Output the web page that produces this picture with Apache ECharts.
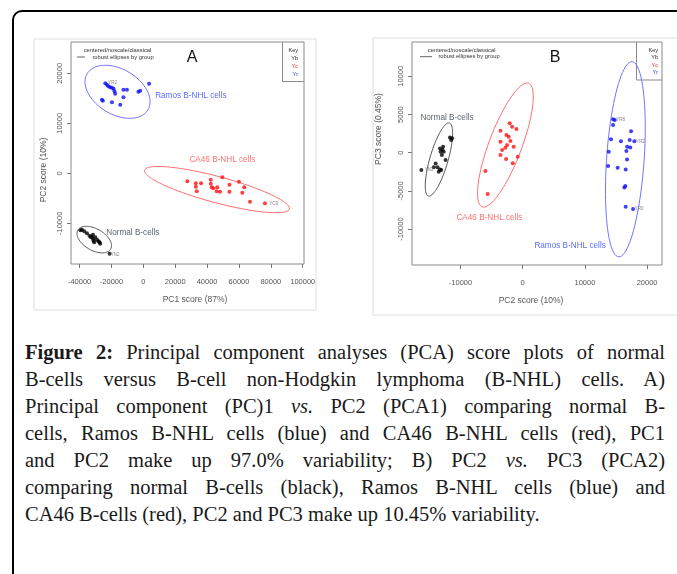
<!DOCTYPE html>
<html lang="en">
<head>
<meta charset="UTF-8">
<title>PCA score plots</title>
<script src="https://cdn.jsdelivr.net/npm/echarts@6/dist/echarts.min.js"></script>
<style>
    html, body { margin: 0; padding: 0; width: 677px; height: 574px; overflow: hidden; background: #fff; }
    #frame { position: absolute; left: 12px; top: 10px; width: 720px; height: 620px; border: 2px solid #000; border-radius: 10px; box-sizing: border-box; }
    #main { position: absolute; left: 0; top: 0; width: 677px; height: 330px; }
    #caption { position: absolute; left: 25px; top: 339px; width: 640px; font-family: 'Liberation Serif', 'DejaVu Serif', serif; font-size: 20.5px; line-height: 27px; color: #1a1a1a; }
    #caption div { text-align: justify; text-align-last: justify; }
    #caption div.last { text-align-last: left; }
</style>
</head>
<body>
<div id="frame"></div>
<div id="main"></div>
<div id="caption">
    <div><b>Figure 2:</b> Principal component analyses (PCA) score plots of normal</div>
    <div>B-cells versus B-cell non-Hodgkin lymphoma (B-NHL) cells. A)</div>
    <div>Principal component (PC)1 <i>vs.</i> PC2 (PCA1) comparing normal B-</div>
    <div>cells, Ramos B-NHL cells (blue) and CA46 B-NHL cells (red), PC1</div>
    <div>and PC2 make up 97.0% variability; B) PC2 <i>vs.</i> PC3 (PCA2)</div>
    <div>comparing normal B-cells (black), Ramos B-NHL cells (blue) and</div>
    <div class="last">CA46 B-cells (red), PC2 and PC3 make up 10.45% variability.</div>
</div>
<script>
    // panel A: PC1 vs PC2
    var ramosA = [[-23900, 18000], [-22900, 17700], [-22000, 17400], [-20800, 17200], [-19700, 17100], [-18700, 16900],
        [-18100, 16400], [-12500, 16700], [-10300, 16700], [-17700, 15900], [-26000, 14700], [-25400, 14500],
        [-19700, 14200], [-14500, 13700], [-12500, 15200], [-3100, 16300], [-2000, 16500], [3600, 17900]];
    var ca46A = [[27600, -1600], [32900, -2000], [32900, -2700], [33500, -3600], [36200, -2000], [42300, -1300],
        [42300, -2100], [42900, -2800], [43900, -3000], [46400, -2800], [46000, -3600], [48100, -3700],
        [49600, -800], [54000, -2300], [54000, -3700], [60000, -1700], [63300, -2800], [62100, -3900],
        [66900, -5700], [76300, -6000]];
    var normalA = [[-39500, -11400], [-38500, -11300], [-37100, -11600], [-35400, -12000], [-33800, -12500],
        [-32900, -12800], [-32300, -12700], [-31600, -13100], [-31300, -13500], [-30800, -13800], [-29100, -13300],
        [-28100, -13600], [-27500, -13800], [-27100, -14100], [-31600, -12300], [-30200, -12800], [-21200, -16100]];

    // panel B: PC2 vs PC3
    var normalB = [[-16300, -2270], [-14300, -1900], [-14000, -1400], [-13700, -1900], [-13300, -2200],
        [-13500, -2500], [-13100, -2270], [-13300, 570], [-12800, 790], [-13200, 130], [-12700, 130],
        [-13000, -300], [-12400, -960], [-11700, 2000], [-11350, 1900], [-11500, 1660], [-12900, 400]];
    var ca46B = [[-3580, 2880], [-2090, 3850], [-1710, 3410], [-2620, 2320], [-1010, 3100], [-3580, 1440],
        [-2250, 2100], [-1980, 1530], [-2510, 1010], [-2780, 660], [-3310, 350], [-3580, -300], [-1450, 790],
        [-2670, -830], [-800, -520], [-1600, -1390], [-6000, -2400], [-5630, -5410]];
    var ramosB = [[14530, 4380], [14800, 4290], [14530, 3630], [17430, 2800], [14200, 1750], [15800, 1490],
        [17200, 1660], [17960, 1490], [16800, 790], [17300, 700], [16670, 220], [13830, 130], [16780, -870],
        [13730, -1740], [15270, -1960], [16560, -2180], [16500, -4360], [16350, -4540], [16560, -7080], [17750, -7380]];

    // robust ellipses: centre, end of one axis, end of the other axis
    var ellipseA = {ramos: [-16200, 16300, 2900, 12700, -9000, 20200],
        ca46: [46200, -3260, 91600, -7140, 48400, -740],
        normal: [-30800, -13260, -20500, -15160, -27400, -11400]};
    var ellipseB = {ramos: [16510, -850, 17590, 11930, 19520, -1020],
        ca46: [-2780, 1010, 960, 9100, -310, 250],
        normal: [-13470, -890, -11780, 3890, -12060, -1220]};

    var groupNamesA = [[7400, 15500, 'Ramos B-NHL cells'], [28900, 2700, 'CA46 B-NHL cells'], [-23300, -11800, 'Normal B-cells']];
    var groupNamesB = [[1880, -12190, 'Ramos B-NHL cells'], [-10660, -8520, 'CA46 B-NHL cells'], [-16450, 4590, 'Normal B-cells']];
    var sampleIdsA = [[-22060, 18040, 'YR2'], [79000, -6000, 'YC9'], [-20400, -16260, 'YN2']];
    var sampleIdsB = [[-15750, -2270, 'YN2'], [15060, 4290, 'YR8'], [18230, 1440, 'YR2'], [18000, -7380, 'YR0']];

    var xTicksA = [-40000, -20000, 0, 20000, 40000, 60000, 80000, 100000];
    var yTicksA = [-10000, 0, 10000, 20000];
    var xTicksB = [-10000, 0, 10000, 20000];
    var yTicksB = [-10000, -5000, 0, 5000, 10000];

    var keyLabels = ['Key', 'Yb', 'Yc', 'Yr'];

    var FONT = 'Liberation Sans, Arial, sans-serif';
    var groupColors = ['#1010f0', '#ff1010', '#000000'];
    var ellipseColors = ['#7272ff', '#ff6e6e', '#555555'];
    var nameColors = ['#3246ff', '#ff4a4a', '#2e3a44'];
    var keyColors = ['#222', '#222', '#ff2020', '#2030ff'];

    function axis(grid, min, max, ticks, isY) {
        return {
            type: 'value', gridIndex: grid, min: min, max: max,
            axisLine: {show: false, onZero: false},
            splitLine: {show: false},
            axisTick: {show: true, customValues: ticks, length: 4, lineStyle: {color: '#777'}},
            axisLabel: {customValues: ticks, fontSize: 7.5, color: '#555', fontFamily: FONT,
                margin: isY ? 7 : 14, rotate: isY ? 90 : 0,
                formatter: function (v) { return String(v); }}
        };
    }

    function renderEllipse(params, api) {
        var cx = api.value(0), cy = api.value(1);
        var ux = api.value(2) - cx, uy = api.value(3) - cy;
        var vx = api.value(4) - cx, vy = api.value(5) - cy;
        var pts = [];
        for (var i = 0; i <= 90; i++) {
            var t = i / 90 * 2 * Math.PI;
            pts.push(api.coord([cx + ux * Math.cos(t) + vx * Math.sin(t), cy + uy * Math.cos(t) + vy * Math.sin(t)]));
        }
        return {type: 'polyline', shape: {points: pts}, style: {fill: 'none', stroke: api.visual('color'), lineWidth: 1}};
    }

    function points(name, grid, data, k) {
        return {name: name, type: 'scatter', xAxisIndex: grid, yAxisIndex: grid, data: data,
            symbolSize: 4, itemStyle: {color: groupColors[k]}, silent: true};
    }

    function ellipse(grid, e, k) {
        return {type: 'custom', xAxisIndex: grid, yAxisIndex: grid, data: [e], renderItem: renderEllipse,
            itemStyle: {color: ellipseColors[k]}, silent: true, z: 1};
    }

    function names(grid, list) {
        return {type: 'scatter', xAxisIndex: grid, yAxisIndex: grid, symbolSize: 0, silent: true,
            data: list.map(function (d, i) {
                return {value: [d[0], d[1]], name: d[2], label: {color: nameColors[i]}};
            }),
            label: {show: true, position: 'right', distance: 0, formatter: '{b}', fontSize: 8.2, fontFamily: FONT}};
    }

    function ids(grid, list) {
        return {type: 'scatter', xAxisIndex: grid, yAxisIndex: grid, symbolSize: 0, silent: true,
            data: list.map(function (d) { return {value: [d[0], d[1]], name: d[2]}; }),
            label: {show: true, position: 'right', distance: 0, formatter: '{b}', fontSize: 4.5, color: '#666', fontFamily: FONT}};
    }

    function txt(x, y, text, size, extra) {
        var el = {type: 'text', x: x, y: y, silent: true,
            style: {text: text, fontSize: size, fontFamily: FONT, fill: '#444', align: 'center', verticalAlign: 'middle'}};
        if (extra) {
            for (var k in extra) {
                if (k === 'rotation') el.rotation = extra[k]; else el.style[k] = extra[k];
            }
        }
        return el;
    }

    function keyBox(x0, y0, x1, y1, tx, rows) {
        var els = [{type: 'polyline', silent: true, shape: {points: [[x0, y0], [x0, y1], [x1, y1]]},
            style: {stroke: '#8a8a8a', lineWidth: 1, fill: 'none'}}];
        keyLabels.forEach(function (s, i) {
            els.push(txt(tx, rows[i], s, 5.5, {align: 'right', fill: keyColors[i]}));
        });
        return els;
    }

    function note(cx1, cx2, y1, y2, dash) {
        return [
            txt(cx1, y1, 'centered/noscale/classical', 5.8, {fill: '#333'}),
            txt(cx2, y2, 'robust ellipses by group', 5.8, {fill: '#333'}),
            {type: 'line', silent: true, shape: {x1: dash[0], y1: y2, x2: dash[1], y2: y2}, style: {stroke: '#666', lineWidth: 1}}
        ];
    }

    var graphic = [
        {type: 'rect', silent: true, z: -10, shape: {x: 34, y: 39, width: 282, height: 271}, style: {fill: 'none', stroke: '#dedede', lineWidth: 1}},
        {type: 'rect', silent: true, z: -10, shape: {x: 373, y: 38, width: 340, height: 277}, style: {fill: 'none', stroke: '#dedede', lineWidth: 1}},
        txt(192, 58, 'A', 16, {fill: '#111'}),
        txt(555, 58, 'B', 16, {fill: '#111'}),
        txt(195, 300, 'PC1 score (87%)', 8.5, {fill: '#555'}),
        txt(44, 170, 'PC2 score (10%)', 8.5, {fill: '#555', rotation: Math.PI / 2}),
        txt(531, 301, 'PC2 score (10%)', 8.5, {fill: '#555'}),
        txt(379, 129, 'PC3 score (0.45%)', 8.5, {fill: '#555', rotation: Math.PI / 2})
    ].concat(
        note(117.5, 123, 50, 57, [77, 85]),
        note(461.7, 469, 50, 56.7, [420, 432]),
        keyBox(282.5, 42, 304, 81.5, 298, [50, 58, 66, 74]),
        keyBox(636.5, 42, 662, 80, 658, [50, 57.7, 65, 72.3])
    );

    var option = {
        animation: false,
        grid: [
            {left: 71, top: 42, width: 233, height: 222, show: true, borderColor: '#8a8a8a', borderWidth: 1, outerBoundsMode: 'none'},
            {left: 412, top: 42, width: 250, height: 223, show: true, borderColor: '#8a8a8a', borderWidth: 1, outerBoundsMode: 'none'}
        ],
        xAxis: [
            axis(0, -45400, 100800, xTicksA, false),
            axis(1, -17800, 22400, xTicksB, false)
        ],
        yAxis: [
            axis(0, -18140, 26260, yTicksA, true),
            axis(1, -14700, 14500, yTicksB, true)
        ],
        series: [
            ellipse(0, ellipseA.ramos, 0), ellipse(0, ellipseA.ca46, 1), ellipse(0, ellipseA.normal, 2),
            points('Ramos B-NHL cells', 0, ramosA, 0), points('CA46 B-NHL cells', 0, ca46A, 1), points('Normal B-cells', 0, normalA, 2),
            names(0, groupNamesA), ids(0, sampleIdsA),
            ellipse(1, ellipseB.ramos, 0), ellipse(1, ellipseB.ca46, 1), ellipse(1, ellipseB.normal, 2),
            points('Ramos B-NHL cells', 1, ramosB, 0), points('CA46 B-NHL cells', 1, ca46B, 1), points('Normal B-cells', 1, normalB, 2),
            names(1, groupNamesB), ids(1, sampleIdsB)
        ],
        graphic: graphic
    };

    var myChart = echarts.init(document.getElementById('main'));
    myChart.setOption(option);
</script>
</body>
</html>
